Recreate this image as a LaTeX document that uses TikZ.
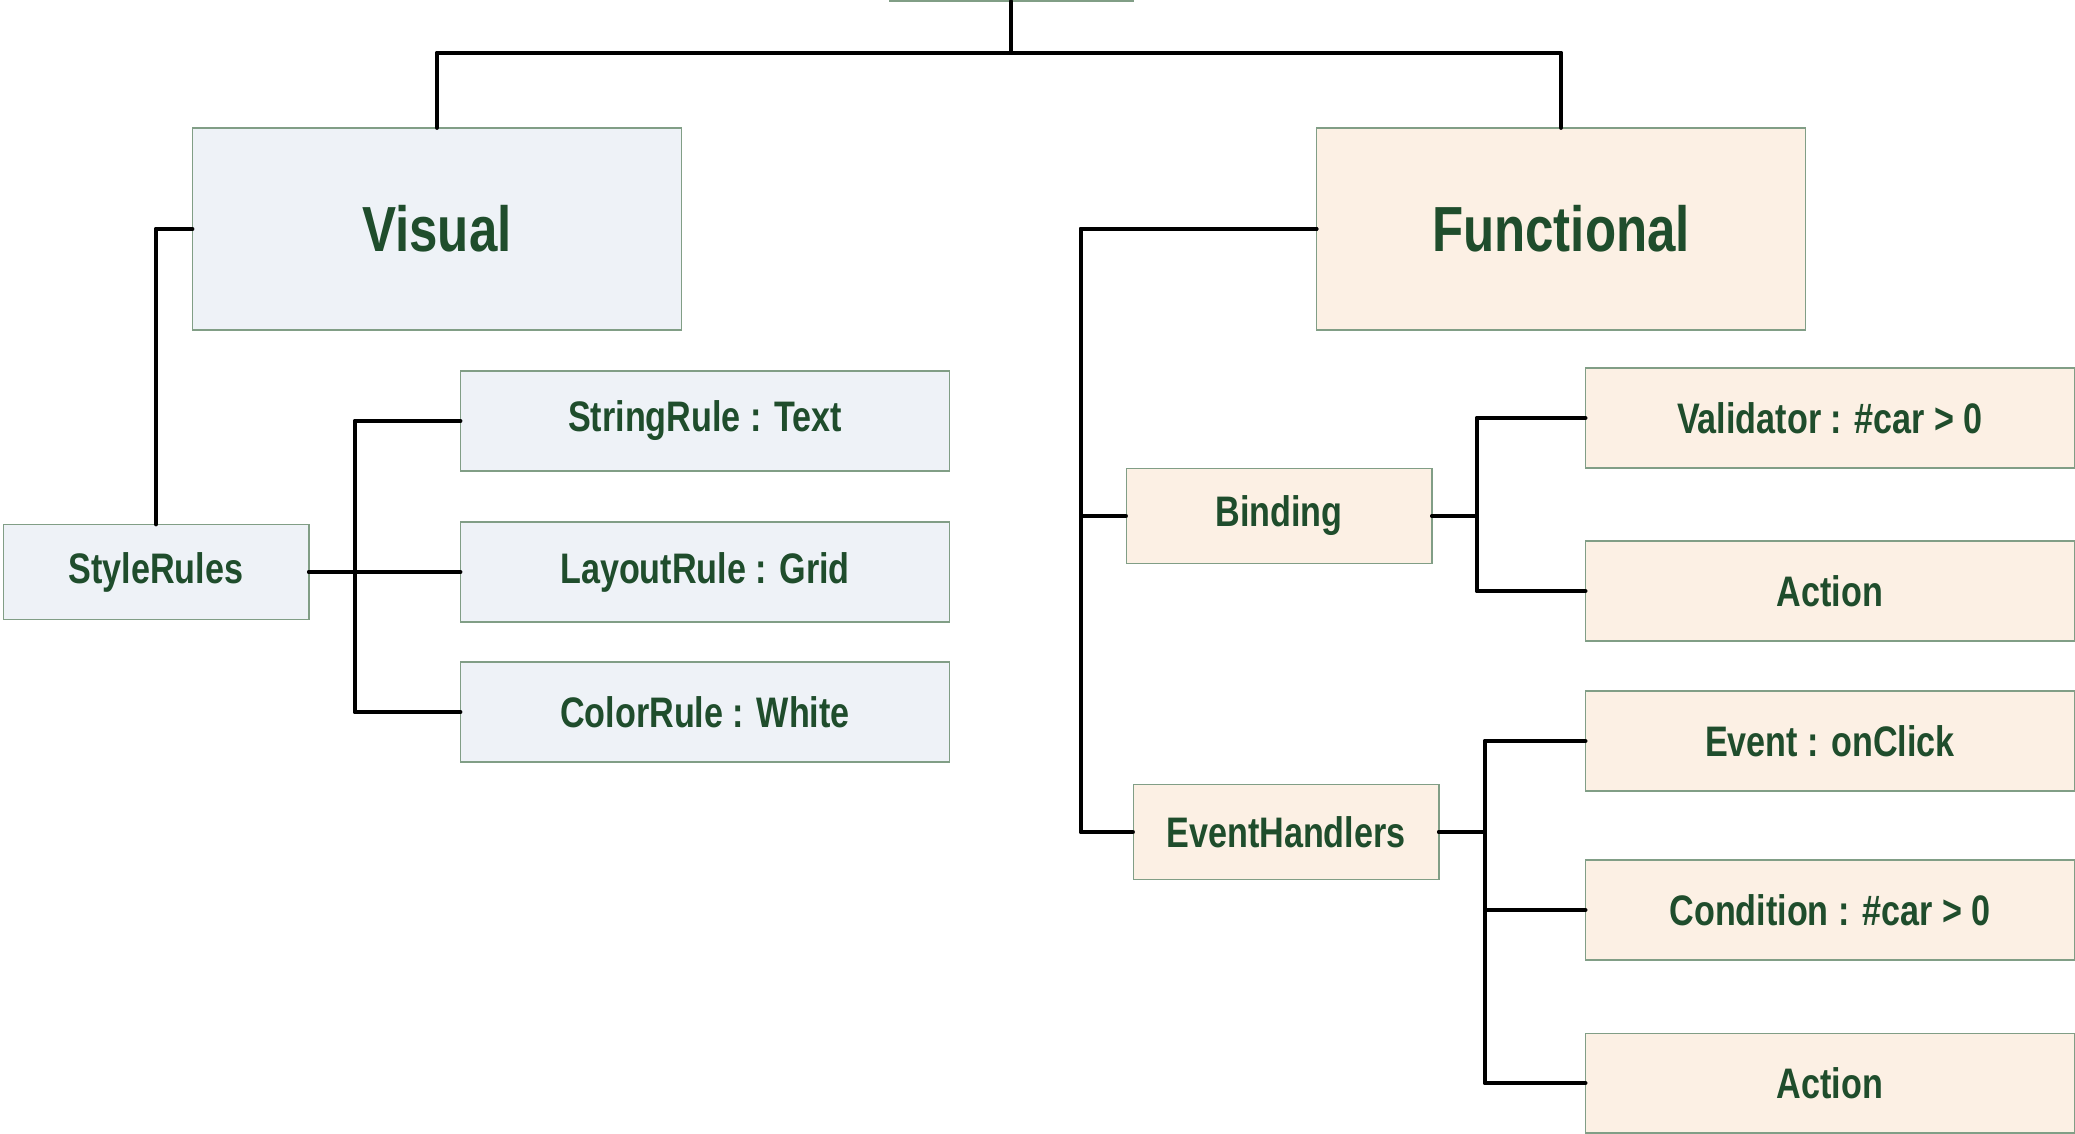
\documentclass[tikz,border=0pt]{standalone}
\usepackage{fontspec}
\setmainfont{Liberation Sans}[FakeStretch=0.8]
\definecolor{visfill}{HTML}{EEF2F7}
\definecolor{funfill}{HTML}{FCF0E4}
\definecolor{boxline}{HTML}{819E86}
\definecolor{txt}{HTML}{1F4D2C}
\begin{document}
\begin{tikzpicture}[x=0.02cm,y=-0.02cm]
	\tikzset{b/.style={draw=boxline,line width=0.6pt,rectangle,inner sep=0pt,text=txt,font=\bfseries\fontsize{24.3}{28}\selectfont},
		vis/.style={b,fill=visfill},
		fun/.style={b,fill=funfill},
		big/.style={minimum width=9.78cm,minimum height=4.04cm,font=\bfseries\fontsize{36.3}{40}\selectfont},
		leaf/.style={minimum width=9.78cm,minimum height=2cm},
		mid/.style={minimum width=6.12cm,minimum height=1.9cm},
		ln/.style={line width=2.8pt,line cap=round,line join=round}}
	\useasboundingbox(0,0)rectangle(2075,1133);
	\clip(0,0)rectangle(2075,1133);
	\path(1011,-29)node[vis,minimum width=4.88cm,minimum height=1.2cm](root){};
	\path(437,229)node[vis,big](Visual){Visual}
		(1561,229)node[fun,big](Functional){Functional};
	\path(156,572)node[vis,mid](StyleRules){StyleRules}
		(705,421)node[vis,leaf](StringRule){StringRule : Text}
		(705,572)node[vis,leaf](LayoutRule){LayoutRule : Grid}
		(705,712)node[vis,leaf](ColorRule){ColorRule : White};
	\path(1279,516)node[fun,mid](Binding){Binding}
		(1286,832)node[fun,mid](EventHandlers){EventHandlers};
	\path(1830,418)node[fun,leaf](Validator){Validator : \#car > 0}
		(1830,591)node[fun,leaf](ActionA){Action}
		(1830,741)node[fun,leaf](Event){Event : onClick}
		(1830,910)node[fun,leaf](Condition){Condition : \#car > 0}
		(1830,1083)node[fun,leaf](ActionB){Action};
	\coordinate(bar)at(1011,53);
	\coordinate(s1)at(355,0);
	\coordinate(s2)at(1081,0);
	\coordinate(s3)at(1477,0);
	\coordinate(s4)at(1485,0);
	\draw[ln](root.south)--(bar)-|(Visual.north);
	\draw[ln](bar)-|(Functional.north);
	\draw[ln](Visual.west)-|(StyleRules.north);
	\foreach \x/\s/\y in {
		StyleRules.east/s1/StringRule,StyleRules.east/s1/LayoutRule,StyleRules.east/s1/ColorRule,
		Functional.west/s2/Binding,Functional.west/s2/EventHandlers,
		Binding.east/s3/Validator,Binding.east/s3/ActionA,
		EventHandlers.east/s4/Event,EventHandlers.east/s4/Condition,EventHandlers.east/s4/ActionB}
	\draw[ln](\x)--(\x-|\s)|-(\y.west);
\end{tikzpicture}
\end{document}
